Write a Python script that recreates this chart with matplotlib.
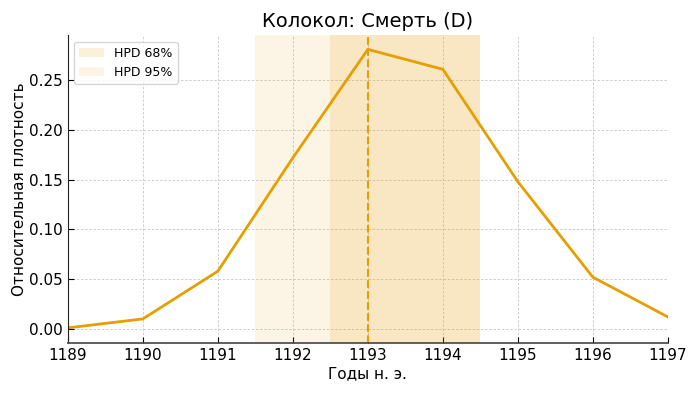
import matplotlib
matplotlib.use("Agg")
import matplotlib.pyplot as plt

years = [1189, 1190, 1191, 1192, 1193, 1194, 1195, 1196, 1197]
density = [0.001, 0.010, 0.058, 0.172, 0.281, 0.261, 0.148, 0.052, 0.012]
hpd68 = (1192.5, 1194.5)
hpd95 = (1191.5, 1194.5)
mode_year = 1193

color = "#E69F00"
fig, ax = plt.subplots(figsize=(7, 3.94), dpi=100)
ax.axvspan(hpd68[0], hpd68[1], color=color, alpha=0.15, lw=0, label="HPD 68%")
ax.axvspan(hpd95[0], hpd95[1], color=color, alpha=0.10, lw=0, label="HPD 95%")
ax.plot(years, density, color=color, lw=2)
ax.axvline(mode_year, color=color, ls="--", lw=1.5)
ax.set_xlim(1189, 1197)
ax.set_ylim(-0.014, 0.295)
ax.set_xticks(years)
ax.set_yticks([0, 0.05, 0.10, 0.15, 0.20, 0.25])
ax.yaxis.set_major_formatter(matplotlib.ticker.FormatStrFormatter("%.2f"))
ax.grid(True, ls=(0, (3, 2)), color="#c8c8c8", lw=0.6)
ax.set_axisbelow(True)
for s in ["top", "right"]:
    ax.spines[s].set_visible(False)
ax.spines["left"].set_color("#222222")
ax.spines["bottom"].set_color("#444444")
ax.spines["bottom"].set_linewidth(1.2)
ax.set_title("Колокол: Смерть (D)", fontsize=14)
ax.set_xlabel("Годы н. э.", fontsize=11, labelpad=2)
ax.set_ylabel("Относительная плотность", fontsize=11, labelpad=1)
ax.tick_params(labelsize=11, direction="in", length=4, pad=4)
ax.legend(loc="upper left", fontsize=9)
fig.subplots_adjust(left=0.097, right=0.954, top=0.91, bottom=0.13)
fig.savefig("out.png", dpi=100)
